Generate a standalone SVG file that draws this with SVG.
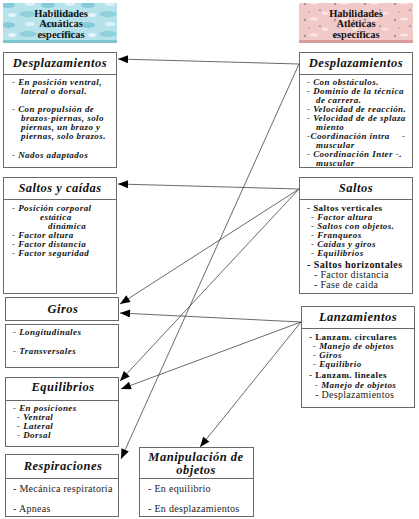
<svg xmlns="http://www.w3.org/2000/svg" width="419" height="519" viewBox="0 0 419 519">
<style>
.box{fill:#fff;stroke:#6a6a6a;stroke-width:1}
.t{font-family:"Liberation Serif","Times New Roman","DejaVu Serif",serif;font-weight:bold;font-style:italic;font-size:12.5px;fill:#111;text-anchor:middle;letter-spacing:0.5px}
.b{font-family:"Liberation Serif","Times New Roman","DejaVu Serif",serif;font-weight:bold;font-style:italic;font-size:9px;fill:#111;letter-spacing:0.45px}
.bb{font-family:"Liberation Serif","Times New Roman","DejaVu Serif",serif;font-weight:bold;font-size:9px;fill:#111;letter-spacing:0.45px}
.r{font-family:"Liberation Serif","Times New Roman","DejaVu Serif",serif;font-size:10px;fill:#222;letter-spacing:0.3px}
.h{font-family:"Liberation Serif","Times New Roman","DejaVu Serif",serif;font-weight:bold;font-size:10.5px;fill:#111;text-anchor:middle}
.c line{stroke:#444;stroke-width:0.8;marker-end:url(#ah)}
</style>
<defs>
<marker id="ah" viewBox="0 0 10 8" refX="10" refY="4" markerWidth="11" markerHeight="8" markerUnits="userSpaceOnUse" orient="auto">
<path d="M0,0 L10,4 L0,8 z" fill="#000"/>
</marker>
<pattern id="aqua" width="40" height="20" patternUnits="userSpaceOnUse">
<rect width="40" height="20" fill="#b6e2ec"/>
<ellipse cx="8" cy="5" rx="7" ry="3" fill="#86cbd9"/>
<ellipse cx="28" cy="14" rx="9" ry="3" fill="#8fd0dc"/>
<ellipse cx="30" cy="4" rx="5" ry="2" fill="#def3f7"/>
<ellipse cx="12" cy="15" rx="4" ry="2" fill="#e4f6f9"/>
</pattern>
<pattern id="pink" width="30" height="16" patternUnits="userSpaceOnUse">
<rect width="30" height="16" fill="#f2c9c9"/>
<circle cx="5" cy="4" r="1.2" fill="#a89494"/>
<circle cx="20" cy="10" r="1" fill="#a89494"/>
<ellipse cx="14" cy="3" rx="4" ry="1.5" fill="#fbe5e5"/>
<ellipse cx="25" cy="13" rx="3" ry="1.5" fill="#fbe5e5"/>
<circle cx="9" cy="12" r="0.8" fill="#b59c9c"/>
</pattern>
</defs>

<g id="hdr-acuaticas">
<rect x="3" y="3" width="114" height="40" fill="url(#aqua)"/>
<rect x="3" y="40" width="114" height="3" fill="#7fc5d1"/>
<text class="h" x="61" y="17">Habilidades</text>
<text class="h" x="61" y="27">Acuáticas</text>
<text class="h" x="61" y="38">específicas</text>
</g>
<g id="hdr-atleticas">
<rect x="299" y="3" width="114" height="40" fill="url(#pink)"/>
<rect x="299" y="40" width="114" height="3" fill="#d99b9b"/>
<text class="h" x="356" y="17">Habilidades</text>
<text class="h" x="356" y="27">Atléticas</text>
<text class="h" x="356" y="38">específicas</text>
</g>

<g id="l-desplazamientos">
<rect class="box" x="3.5" y="52.5" width="113" height="22"/>
<rect class="box" x="3.5" y="74.5" width="113" height="93"/>
<text class="t" x="60" y="67">Desplazamientos</text>
<text class="b" x="12" y="85">- En posición ventral,</text>
<text class="b" x="21" y="94">lateral o dorsal.</text>
<text class="b" x="12" y="112">- Con propulsión de</text>
<text class="b" x="21" y="121">brazos-piernas, solo</text>
<text class="b" x="21" y="130">piernas, un brazo y</text>
<text class="b" x="21" y="139">piernas, solo brazos.</text>
<text class="b" x="12" y="158">- Nados adaptados</text>
</g>

<g id="r-desplazamientos">
<rect class="box" x="299.5" y="52.5" width="113" height="22"/>
<rect class="box" x="299.5" y="74.5" width="113" height="93"/>
<text class="t" x="356" y="67">Desplazamientos</text>
<text class="b" x="307" y="85">- Con obstáculos.</text>
<text class="b" x="307" y="94">- Dominio de la técnica</text>
<text class="b" x="316" y="103">de carrera.</text>
<text class="b" x="307" y="112">- Velocidad de reacción.</text>
<text class="b" x="307" y="121">- Velocidad de de splaza</text>
<text class="b" x="316" y="130">miento</text>
<text class="b" x="307" y="139">-Coordinación intra</text>
<text class="b" x="402" y="139">-</text>
<text class="b" x="316" y="148">muscular</text>
<text class="b" x="307" y="157">- Coordinación Inter -.</text>
<text class="b" x="316" y="166">muscular</text>
</g>

<g id="l-saltos">
<rect class="box" x="3.5" y="177.5" width="113" height="22"/>
<rect class="box" x="3.5" y="199.5" width="113" height="94"/>
<text class="t" x="60" y="192">Saltos y caídas</text>
<text class="b" x="12" y="211">- Posición corporal</text>
<text class="b" x="40" y="220">estática</text>
<text class="b" x="48" y="229">dinámica</text>
<text class="b" x="12" y="238">- Factor altura</text>
<text class="b" x="12" y="247">- Factor distancia</text>
<text class="b" x="12" y="256">- Factor seguridad</text>
</g>

<g id="r-saltos">
<rect class="box" x="299.5" y="177.5" width="113" height="22"/>
<rect class="box" x="299.5" y="199.5" width="113" height="94"/>
<text class="t" x="356" y="192">Saltos</text>
<text class="bb" x="307" y="210.5">- Saltos verticales</text>
<text class="b" x="311" y="220">- Factor altura</text>
<text class="b" x="311" y="229">- Saltos con objetos.</text>
<text class="b" x="311" y="238">- Franqueos</text>
<text class="b" x="311" y="247">- Caídas y giros</text>
<text class="b" x="311" y="256">- Equilibrios</text>
<text class="bb" x="307" y="268" style="font-size:10px">- Saltos horizontales</text>
<text class="r" x="314" y="278">- Factor distancia</text>
<text class="r" x="314" y="288">- Fase de caida</text>
</g>

<g id="l-giros">
<rect class="box" x="5.5" y="297.5" width="113" height="23"/>
<rect class="box" x="5.5" y="324.5" width="113" height="43"/>
<text class="t" x="63" y="313">Giros</text>
<text class="b" x="13" y="335">- Longitudinales</text>
<text class="b" x="13" y="354">- Transversales</text>
</g>

<g id="l-equilibrios">
<rect class="box" x="5.5" y="377.5" width="113" height="23"/>
<rect class="box" x="5.5" y="400.5" width="113" height="46"/>
<text class="t" x="63" y="391">Equilibrios</text>
<text class="b" x="13" y="411">- En posiciones</text>
<text class="b" x="17" y="420">- Ventral</text>
<text class="b" x="17" y="429">- Lateral</text>
<text class="b" x="17" y="438">- Dorsal</text>
</g>

<g id="l-respiraciones">
<rect class="box" x="5.5" y="454.5" width="113" height="24"/>
<rect class="box" x="5.5" y="478.5" width="113" height="38"/>
<text class="t" x="63" y="470">Respiraciones</text>
<text class="r" x="13" y="492">- Mecánica respiratoria</text>
<text class="r" x="13" y="512">- Apneas</text>
</g>

<g id="manipulacion">
<rect class="box" x="139.5" y="447.5" width="114" height="31"/>
<rect class="box" x="139.5" y="478.5" width="114" height="38"/>
<text class="t" x="196" y="461">Manipulación de</text>
<text class="t" x="196" y="474">objetos</text>
<text class="r" x="148" y="492">- En equilibrio</text>
<text class="r" x="148" y="512">- En desplazamientos</text>
</g>

<g id="r-lanzamientos">
<rect class="box" x="301.5" y="306.5" width="113" height="22"/>
<rect class="box" x="301.5" y="328.5" width="113" height="79"/>
<text class="t" x="358" y="321">Lanzamientos</text>
<text class="bb" x="309" y="340">- Lanzam. circulares</text>
<text class="b" x="313" y="349">- Manejo de objetos</text>
<text class="b" x="313" y="358">- Giros</text>
<text class="b" x="313" y="367">- Equilibrio</text>
<text class="bb" x="309" y="378">- Lanzam. lineales</text>
<text class="b" x="315" y="388">- Manejo de objetos</text>
<text class="r" x="315" y="398">- Desplazamientos</text>
</g>

<g id="connectors" class="c">
<line x1="299" y1="64" x2="118" y2="59"/>
<line x1="299" y1="64" x2="121" y2="459"/>
<line x1="299" y1="189" x2="118" y2="184"/>
<line x1="299" y1="189" x2="120" y2="304"/>
<line x1="299" y1="189" x2="120" y2="381"/>
<line x1="301" y1="322" x2="120" y2="313"/>
<line x1="301" y1="322" x2="121" y2="389"/>
<line x1="301" y1="322" x2="200" y2="447"/>
</g>
</svg>
